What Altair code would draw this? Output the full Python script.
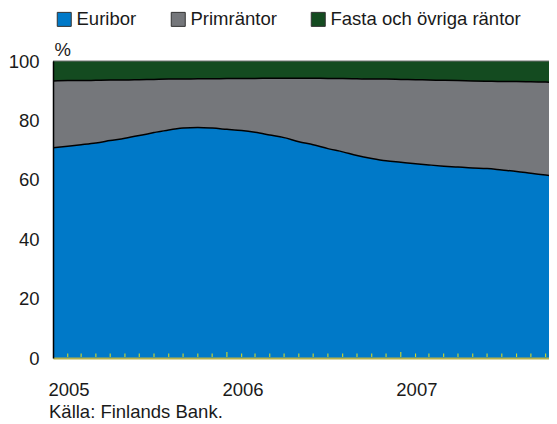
import altair as alt
import pandas as pd

# ---- data ----
months = pd.date_range("2005-01-01", "2007-12-01", freq="MS").strftime("%Y-%m-%dT00:00:00").tolist()

euribor = [70.8, 71.3, 71.8, 72.4, 73.2, 74.0, 74.9, 75.9, 76.8, 77.4, 77.6, 77.4,
           77.0, 76.6, 76.0, 75.1, 74.2, 72.8, 71.8, 70.5, 69.4, 68.2, 67.2, 66.4,
           65.9, 65.4, 65.0, 64.6, 64.3, 64.0, 63.8, 63.3, 62.8, 62.2, 61.6, 61.0]
fasta = [6.7, 6.6, 6.6, 6.5, 6.4, 6.4, 6.3, 6.2, 6.1, 6.1, 6.0, 6.0,
         5.9, 5.9, 5.9, 5.8, 5.8, 5.8, 5.8, 5.9, 5.9, 6.0, 6.1, 6.1,
         6.2, 6.3, 6.4, 6.5, 6.6, 6.7, 6.8, 6.9, 6.9, 7.0, 7.1, 7.2]
prim = [round(100 - e - f, 1) for e, f in zip(euribor, fasta)]

series = ["Euribor", "Primräntor", "Fasta och övriga räntor"]
colors = ["#0079C8", "#75777B", "#144B20"]
year_labels = ["2005-01-01T00:00:00", "2006-01-01T00:00:00", "2007-01-01T00:00:00"]
source_text = "Källa: Finlands Bank."

# ---- tables built from the arrays ----
rows = []
for m, e, p, f in zip(months, euribor, prim, fasta):
    lo = 0.0
    for name, v in zip(series, [e, p, f]):
        rows.append({"month": m, "serie": name, "lo": lo, "hi": lo + v})
        lo += v
df = pd.DataFrame(rows)

bounds = pd.DataFrame({"month": months,
                       "b1": euribor,
                       "b2": [e + p for e, p in zip(euribor, prim)]})

ticks = pd.DataFrame({"month": months,
                      "major": [m.endswith("-01-01T00:00:00") for m in months]})

FONT = "Liberation Sans"
FS = 18.5
TXT = "#1a1a1a"
W, H = 496, 297

xscale = alt.Scale(domain=[alt.DateTime(year=2005, month=1, date=1),
                           alt.DateTime(year=2007, month=11, date=8)])
yscale = alt.Scale(domain=[0, 100], nice=False)

x_enc = alt.X("month:T", scale=xscale,
              axis=alt.Axis(values=year_labels, format="%Y", title=None,
                            tickSize=0, labelAlign="left", labelOffset=-5,
                            labelFlush=False, labelBaseline="middle",
                            labelPadding=31, labelFontSize=FS, labelFont=FONT,
                            labelColor=TXT, domainColor="#B5B24C",
                            domainWidth=2, grid=False, zindex=1))

area = alt.Chart(df).mark_area(interpolate="monotone", clip=True).encode(
    x=x_enc,
    y=alt.Y("hi:Q", scale=yscale, stack=None,
            axis=alt.Axis(values=[0, 20, 40, 60, 80, 100], title="%",
                          titleAngle=0, titleAlign="left", titleBaseline="middle",
                          titleX=1, titleY=-12, titleFontSize=FS,
                          titleFont=FONT, titleFontWeight="normal",
                          titleColor=TXT,
                          tickSize=0, labelPadding=14, labelFontSize=FS,
                          labelFont=FONT, labelColor=TXT,
                          domainColor="#000000", domainWidth=1.5,
                          grid=False, zindex=1)),
    y2="lo:Q",
    color=alt.Color("serie:N", sort=series,
                    scale=alt.Scale(domain=series, range=colors),
                    legend=alt.Legend(title=None, orient="none", direction="horizontal",
                                      legendX=2, legendY=-51,
                                      symbolType="square", symbolSize=196,
                                      symbolStrokeColor="#333333", symbolStrokeWidth=1,
                                      symbolOpacity=1,
                                      labelFontSize=FS, labelFont=FONT,
                                      labelColor=TXT, labelOffset=3,
                                      columnPadding=32, labelLimit=400)),
)

line1 = alt.Chart(bounds).mark_line(interpolate="monotone", color="black",
                                    strokeWidth=1.5, clip=True).encode(
    x=alt.X("month:T", scale=xscale), y=alt.Y("b1:Q", scale=yscale))
line2 = alt.Chart(bounds).mark_line(interpolate="monotone", color="black",
                                    strokeWidth=1.5, clip=True).encode(
    x=alt.X("month:T", scale=xscale), y=alt.Y("b2:Q", scale=yscale))

top_rule = alt.Chart(pd.DataFrame({"v": [100]})).mark_rule(
    color="#707070", strokeWidth=1).encode(y=alt.Y("v:Q", scale=yscale))

minor = alt.Chart(ticks[~ticks["major"]]).mark_rule(
    color="#E6E214", strokeWidth=1, clip=True).encode(
    x=alt.X("month:T", scale=xscale), y=alt.value(H - 1), y2=alt.value(H - 4.5))
major = alt.Chart(ticks[ticks["major"]]).mark_rule(
    color="#E6E214", strokeWidth=1, clip=True).encode(
    x=alt.X("month:T", scale=xscale), y=alt.value(H - 1), y2=alt.value(H - 6))

source = alt.Chart(pd.DataFrame({"t": [source_text]})).mark_text(
    align="left", baseline="middle", fontSize=FS, font=FONT, color=TXT).encode(
    text="t:N", x=alt.value(-4), y=alt.value(H + 54))

chart = alt.layer(area, line1, line2, top_rule, minor, major, source).properties(
    width=W, height=H,
    autosize=alt.AutoSizeParams(type="none"),
    padding={"left": 45, "top": 53, "right": 0, "bottom": 66},
).configure_view(stroke=None).configure(background="white")

chart.save("out.html", embed_options={"renderer": "svg", "actions": False})
